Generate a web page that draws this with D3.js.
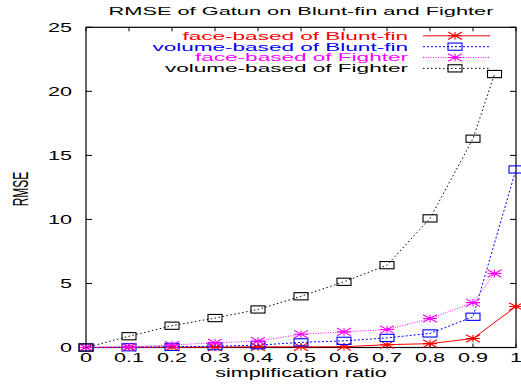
<!DOCTYPE html>
<html>
<head>
<meta charset="utf-8">
<script src="https://cdn.jsdelivr.net/npm/d3@7"></script>
<style>
  body { margin: 0; background: #fff; }
  text { font-family: "Liberation Sans", Arial, sans-serif; }
</style>
</head>
<body>
<div id="chart"></div>
<script>
// data
var bluntRatios = [0, 0.1, 0.2, 0.3, 0.4, 0.5, 0.6, 0.7, 0.8, 0.9, 1];
var fighterRatios = [0, 0.1, 0.2, 0.3, 0.4, 0.5, 0.6, 0.7, 0.8, 0.9, 0.95];
var faceBlunt = [0, 0.01, 0.02, 0.03, 0.05, 0.05, 0.06, 0.22, 0.3, 0.7, 3.2];
var volumeBlunt = [0, 0.02, 0.05, 0.1, 0.18, 0.4, 0.52, 0.75, 1.1, 2.4, 13.9];
var faceFighter = [0, 0.05, 0.2, 0.36, 0.5, 1.04, 1.22, 1.4, 2.26, 3.5, 5.78];
var volumeFighter = [0, 0.88, 1.7, 2.3, 2.97, 4.0, 5.13, 6.43, 10.08, 16.3, 21.35];
var xTicks = [0, 0.1, 0.2, 0.3, 0.4, 0.5, 0.6, 0.7, 0.8, 0.9, 1];
var yTicks = [0, 5, 10, 15, 20, 25];

var series = [
  {name: "face-based of Blunt-fin", x: bluntRatios, y: faceBlunt, color: "#ff0000", dash: null, mark: "star"},
  {name: "volume-based of Blunt-fin", x: bluntRatios, y: volumeBlunt, color: "#0000ff", dash: "2,2", mark: "box"},
  {name: "face-based of Fighter", x: fighterRatios, y: faceFighter, color: "#ff00ff", dash: "1,1.5", mark: "star"},
  {name: "volume-based of Fighter", x: fighterRatios, y: volumeFighter, color: "#000000", dash: "1.5,2.5", mark: "box"}
];

var W = 521, H = 385;
var SX = 1.8; // the picture is stretched sideways, text too
// note: "top" is taken by window.top, so plot edges get their own names
var plotLeft = 86, plotRight = 516, plotTop = 27.3, plotBottom = 347.5;

var svg = d3.select("#chart").append("svg").attr("width", W).attr("height", H);

var x = d3.scaleLinear().domain([0, 1]).range([plotLeft, plotRight]);
var y = d3.scaleLinear().domain([0, 25]).range([plotBottom, plotTop]);

// text helper, stretched horizontally around its anchor
function label(g, tx, ty, str, anchor, color, size, rot, sx) {
  return g.append("text")
    .attr("transform", "translate(" + tx + "," + ty + ") scale(" + (sx || SX) + ",1)" + (rot ? " rotate(" + rot + ")" : ""))
    .attr("text-anchor", anchor)
    .attr("fill", color || "#000")
    .attr("font-size", size || 12)
    .text(str);
}

// frame
svg.append("rect")
  .attr("x", plotLeft).attr("y", plotTop)
  .attr("width", plotRight - plotLeft).attr("height", plotBottom - plotTop)
  .attr("fill", "none").attr("stroke", "#000").attr("stroke-width", 1.2);

// ticks (inside, mirrored)
var tk = svg.append("g").attr("stroke", "#000").attr("stroke-width", 1);
xTicks.forEach(function(t) {
  tk.append("line").attr("x1", x(t)).attr("x2", x(t)).attr("y1", plotBottom).attr("y2", plotBottom - 4);
  tk.append("line").attr("x1", x(t)).attr("x2", x(t)).attr("y1", plotTop).attr("y2", plotTop + 4);
});
yTicks.forEach(function(t) {
  tk.append("line").attr("x1", plotLeft).attr("x2", plotLeft + 6).attr("y1", y(t)).attr("y2", y(t));
  tk.append("line").attr("x1", plotRight).attr("x2", plotRight - 6).attr("y1", y(t)).attr("y2", y(t));
});

// tick labels
xTicks.forEach(function(t) {
  label(svg, x(t), 362, d3.format("~g")(t), "middle");
});
yTicks.forEach(function(t) {
  label(svg, 72, y(t) + 4.3, t, "end");
});

// titles
label(svg, (plotLeft + plotRight) / 2, 15, "RMSE of Gatun on Blunt-fin and Fighter", "middle", "#000", 11, 0, 1.98);
label(svg, (plotLeft + plotRight) / 2, 377, "simplification ratio", "middle");
label(svg, 28, 189, "RMSE", "middle", "#000", 12, -90);

// markers
function drawMark(g, kind, cx, cy, color) {
  if (kind === "box") {
    g.append("rect")
      .attr("x", cx - 7).attr("y", cy - 3.6)
      .attr("width", 14).attr("height", 7.2)
      .attr("fill", "none").attr("stroke", color).attr("stroke-width", 1.1);
  } else {
    var rx = 7, ry = 3.8;
    g.append("path")
      .attr("d", "M" + (cx - rx) + "," + cy + "H" + (cx + rx) +
        "M" + cx + "," + (cy - ry) + "V" + (cy + ry) +
        "M" + (cx - rx) + "," + (cy - ry) + "L" + (cx + rx) + "," + (cy + ry) +
        "M" + (cx - rx) + "," + (cy + ry) + "L" + (cx + rx) + "," + (cy - ry))
      .attr("stroke", color).attr("stroke-width", 1.1).attr("fill", "none");
  }
}

var line = d3.line().x(function(d) { return x(d[0]); }).y(function(d) { return y(d[1]); });

series.forEach(function(s) {
  var pts = s.x.map(function(v, i) { return [v, s.y[i]]; });
  var g = svg.append("g");
  g.append("path")
    .attr("d", line(pts))
    .attr("fill", "none")
    .attr("stroke", s.color)
    .attr("stroke-width", 1)
    .attr("stroke-dasharray", s.dash);
  pts.forEach(function(p) { drawMark(g, s.mark, x(p[0]), y(p[1]), s.color); });
});

// legend
var lg = svg.append("g");
series.forEach(function(s, i) {
  var ly = 35.8 + i * 10.85;
  label(lg, 408, ly + 3.9, s.name, "end", s.color, 11, 0, 2.05);
  lg.append("line")
    .attr("x1", 423).attr("x2", 490).attr("y1", ly).attr("y2", ly)
    .attr("stroke", s.color).attr("stroke-width", 1)
    .attr("stroke-dasharray", s.dash);
  drawMark(lg, s.mark, 455, ly, s.color);
});
</script>
</body>
</html>
